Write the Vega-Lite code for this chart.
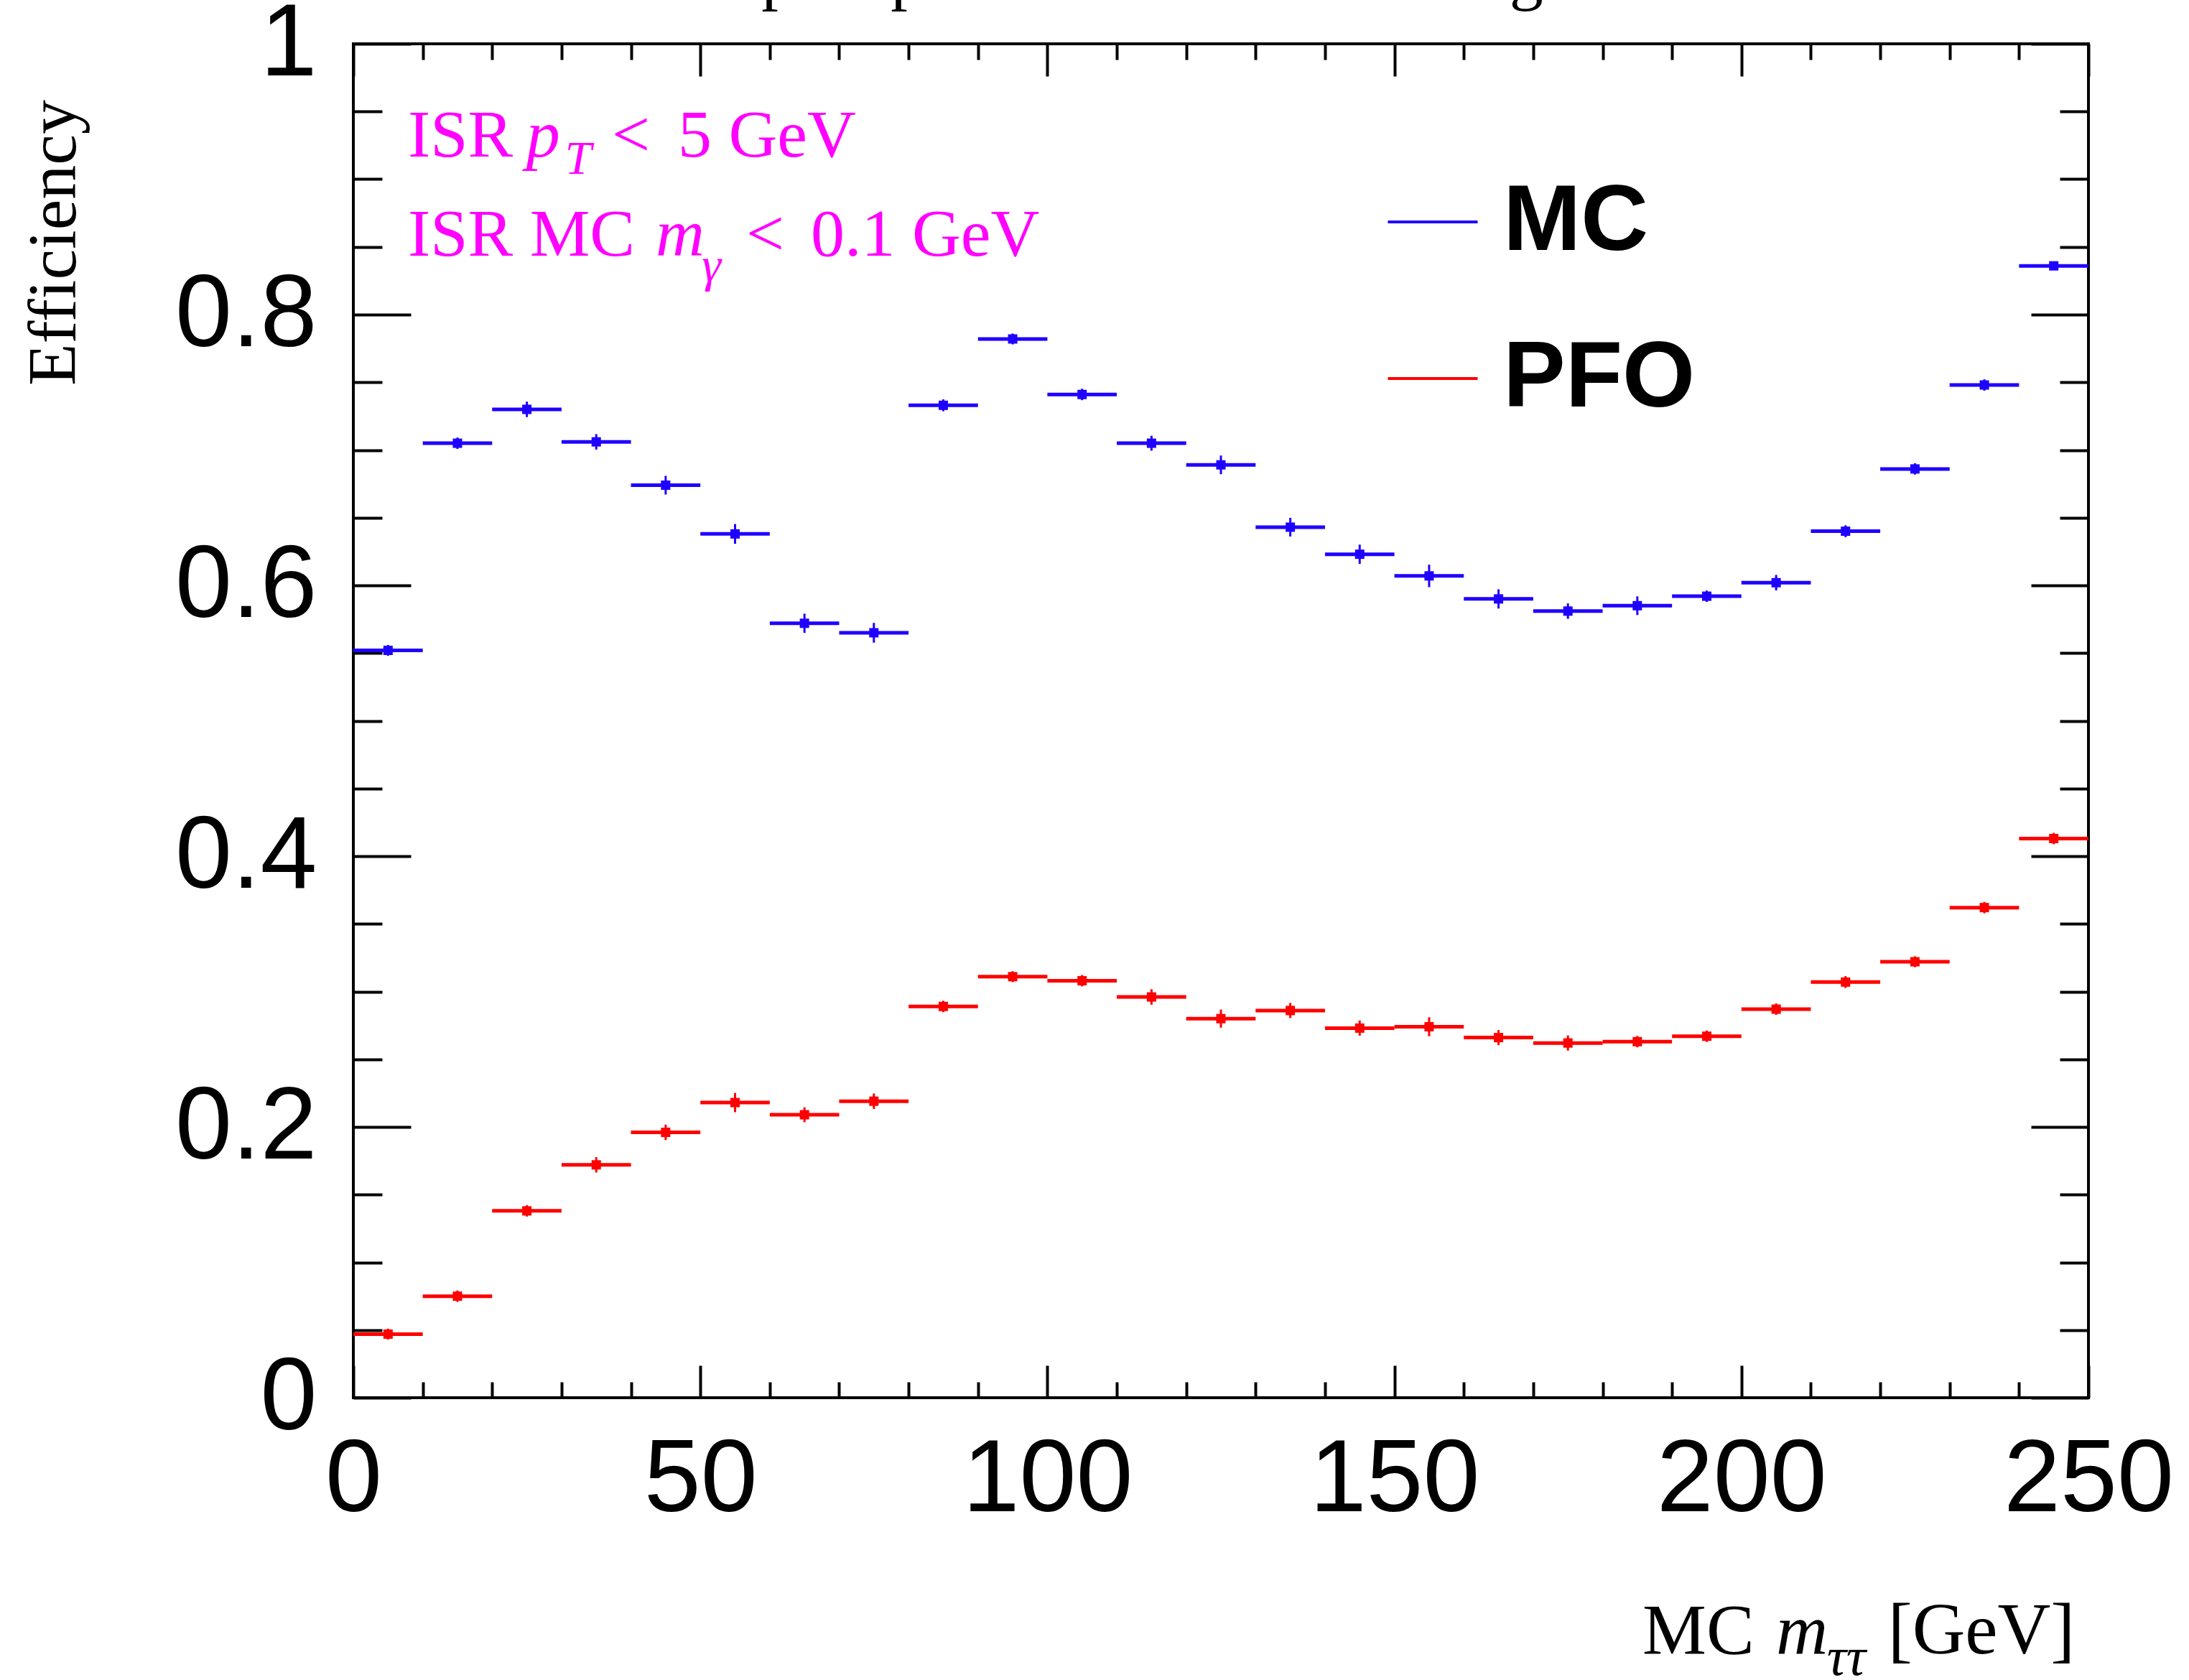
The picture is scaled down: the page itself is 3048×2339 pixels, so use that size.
{
  "$schema": "https://vega.github.io/schema/vega-lite/v6.json",
  "width": 2416,
  "height": 1885,
  "autosize": "none",
  "padding": {"left": 492, "top": 61, "right": 140, "bottom": 393},
  "background": "white",
  "config": {
    "view": {"stroke": "black", "strokeWidth": 4},
    "axis": {"domain": false, "grid": false, "title": null, "tickColor": "black", "tickWidth": 4, "labelColor": "black", "labelFont": "Liberation Sans", "labelFontSize": 142, "labelFlush": false, "labelOverlap": false, "labelLimit": 0}
  },
  "datasets": {
    "bins": [
      {"sample": "MC", "m_lo": 0, "m_hi": 10, "m": 5, "eff": 0.552, "eff_lo": 0.548, "eff_hi": 0.556},
      {"sample": "MC", "m_lo": 10, "m_hi": 20, "m": 15, "eff": 0.705, "eff_lo": 0.7008, "eff_hi": 0.7092},
      {"sample": "MC", "m_lo": 20, "m_hi": 30, "m": 25, "eff": 0.730, "eff_lo": 0.7243, "eff_hi": 0.7357},
      {"sample": "MC", "m_lo": 30, "m_hi": 40, "m": 35, "eff": 0.706, "eff_lo": 0.7003, "eff_hi": 0.7117},
      {"sample": "MC", "m_lo": 40, "m_hi": 50, "m": 45, "eff": 0.674, "eff_lo": 0.6671, "eff_hi": 0.6809},
      {"sample": "MC", "m_lo": 50, "m_hi": 60, "m": 55, "eff": 0.638, "eff_lo": 0.6307, "eff_hi": 0.6453},
      {"sample": "MC", "m_lo": 60, "m_hi": 70, "m": 65, "eff": 0.572, "eff_lo": 0.5649, "eff_hi": 0.5791},
      {"sample": "MC", "m_lo": 70, "m_hi": 80, "m": 75, "eff": 0.565, "eff_lo": 0.5577, "eff_hi": 0.5723},
      {"sample": "MC", "m_lo": 80, "m_hi": 90, "m": 85, "eff": 0.733, "eff_lo": 0.7286, "eff_hi": 0.7374},
      {"sample": "MC", "m_lo": 90, "m_hi": 100, "m": 95, "eff": 0.782, "eff_lo": 0.778, "eff_hi": 0.786},
      {"sample": "MC", "m_lo": 100, "m_hi": 110, "m": 105, "eff": 0.741, "eff_lo": 0.7368, "eff_hi": 0.7452},
      {"sample": "MC", "m_lo": 110, "m_hi": 120, "m": 115, "eff": 0.705, "eff_lo": 0.6995, "eff_hi": 0.7105},
      {"sample": "MC", "m_lo": 120, "m_hi": 130, "m": 125, "eff": 0.689, "eff_lo": 0.6821, "eff_hi": 0.6959},
      {"sample": "MC", "m_lo": 130, "m_hi": 140, "m": 135, "eff": 0.643, "eff_lo": 0.6361, "eff_hi": 0.6499},
      {"sample": "MC", "m_lo": 140, "m_hi": 150, "m": 145, "eff": 0.623, "eff_lo": 0.6159, "eff_hi": 0.6301},
      {"sample": "MC", "m_lo": 150, "m_hi": 160, "m": 155, "eff": 0.607, "eff_lo": 0.5987, "eff_hi": 0.6153},
      {"sample": "MC", "m_lo": 160, "m_hi": 170, "m": 165, "eff": 0.590, "eff_lo": 0.5829, "eff_hi": 0.5971},
      {"sample": "MC", "m_lo": 170, "m_hi": 180, "m": 175, "eff": 0.581, "eff_lo": 0.5753, "eff_hi": 0.5867},
      {"sample": "MC", "m_lo": 180, "m_hi": 190, "m": 185, "eff": 0.585, "eff_lo": 0.5781, "eff_hi": 0.5919},
      {"sample": "MC", "m_lo": 190, "m_hi": 200, "m": 195, "eff": 0.592, "eff_lo": 0.5878, "eff_hi": 0.5962},
      {"sample": "MC", "m_lo": 200, "m_hi": 210, "m": 205, "eff": 0.602, "eff_lo": 0.5963, "eff_hi": 0.6077},
      {"sample": "MC", "m_lo": 210, "m_hi": 220, "m": 215, "eff": 0.640, "eff_lo": 0.6356, "eff_hi": 0.6444},
      {"sample": "MC", "m_lo": 220, "m_hi": 230, "m": 225, "eff": 0.686, "eff_lo": 0.6818, "eff_hi": 0.6902},
      {"sample": "MC", "m_lo": 230, "m_hi": 240, "m": 235, "eff": 0.748, "eff_lo": 0.7438, "eff_hi": 0.7522},
      {"sample": "MC", "m_lo": 240, "m_hi": 250, "m": 245, "eff": 0.836, "eff_lo": 0.833, "eff_hi": 0.839},
      {"sample": "PFO", "m_lo": 0, "m_hi": 10, "m": 5, "eff": 0.047, "eff_lo": 0.043, "eff_hi": 0.051},
      {"sample": "PFO", "m_lo": 10, "m_hi": 20, "m": 15, "eff": 0.075, "eff_lo": 0.0708, "eff_hi": 0.0792},
      {"sample": "PFO", "m_lo": 20, "m_hi": 30, "m": 25, "eff": 0.138, "eff_lo": 0.1338, "eff_hi": 0.1422},
      {"sample": "PFO", "m_lo": 30, "m_hi": 40, "m": 35, "eff": 0.172, "eff_lo": 0.1663, "eff_hi": 0.1777},
      {"sample": "PFO", "m_lo": 40, "m_hi": 50, "m": 45, "eff": 0.196, "eff_lo": 0.1903, "eff_hi": 0.2017},
      {"sample": "PFO", "m_lo": 50, "m_hi": 60, "m": 55, "eff": 0.218, "eff_lo": 0.2109, "eff_hi": 0.2251},
      {"sample": "PFO", "m_lo": 60, "m_hi": 70, "m": 65, "eff": 0.209, "eff_lo": 0.2035, "eff_hi": 0.2145},
      {"sample": "PFO", "m_lo": 70, "m_hi": 80, "m": 75, "eff": 0.219, "eff_lo": 0.2133, "eff_hi": 0.2247},
      {"sample": "PFO", "m_lo": 80, "m_hi": 90, "m": 85, "eff": 0.289, "eff_lo": 0.2848, "eff_hi": 0.2932},
      {"sample": "PFO", "m_lo": 90, "m_hi": 100, "m": 95, "eff": 0.311, "eff_lo": 0.307, "eff_hi": 0.315},
      {"sample": "PFO", "m_lo": 100, "m_hi": 110, "m": 105, "eff": 0.308, "eff_lo": 0.3038, "eff_hi": 0.3122},
      {"sample": "PFO", "m_lo": 110, "m_hi": 120, "m": 115, "eff": 0.296, "eff_lo": 0.2903, "eff_hi": 0.3017},
      {"sample": "PFO", "m_lo": 120, "m_hi": 130, "m": 125, "eff": 0.280, "eff_lo": 0.2733, "eff_hi": 0.2867},
      {"sample": "PFO", "m_lo": 130, "m_hi": 140, "m": 135, "eff": 0.286, "eff_lo": 0.2804, "eff_hi": 0.2916},
      {"sample": "PFO", "m_lo": 140, "m_hi": 150, "m": 145, "eff": 0.273, "eff_lo": 0.2674, "eff_hi": 0.2786},
      {"sample": "PFO", "m_lo": 150, "m_hi": 160, "m": 155, "eff": 0.274, "eff_lo": 0.267, "eff_hi": 0.281},
      {"sample": "PFO", "m_lo": 160, "m_hi": 170, "m": 165, "eff": 0.266, "eff_lo": 0.2604, "eff_hi": 0.2716},
      {"sample": "PFO", "m_lo": 170, "m_hi": 180, "m": 175, "eff": 0.262, "eff_lo": 0.2564, "eff_hi": 0.2676},
      {"sample": "PFO", "m_lo": 180, "m_hi": 190, "m": 185, "eff": 0.263, "eff_lo": 0.2588, "eff_hi": 0.2672},
      {"sample": "PFO", "m_lo": 190, "m_hi": 200, "m": 195, "eff": 0.267, "eff_lo": 0.2628, "eff_hi": 0.2712},
      {"sample": "PFO", "m_lo": 200, "m_hi": 210, "m": 205, "eff": 0.287, "eff_lo": 0.2828, "eff_hi": 0.2912},
      {"sample": "PFO", "m_lo": 210, "m_hi": 220, "m": 215, "eff": 0.307, "eff_lo": 0.3026, "eff_hi": 0.3114},
      {"sample": "PFO", "m_lo": 220, "m_hi": 230, "m": 225, "eff": 0.322, "eff_lo": 0.318, "eff_hi": 0.326},
      {"sample": "PFO", "m_lo": 230, "m_hi": 240, "m": 235, "eff": 0.362, "eff_lo": 0.3578, "eff_hi": 0.3662},
      {"sample": "PFO", "m_lo": 240, "m_hi": 250, "m": 245, "eff": 0.413, "eff_lo": 0.4088, "eff_hi": 0.4172}
    ]
  },
  "resolve": {"axis": {"x": "independent", "y": "independent"}},
  "layer": [
    {
      "data": {"name": "bins"},
      "mark": {"type": "rule", "strokeWidth": 5},
      "encoding": {
        "x": {"field": "m_lo", "type": "quantitative", "scale": {"domain": [0, 250], "nice": false},
              "axis": {"orient": "bottom", "values": [0, 50, 100, 150, 200, 250], "tickSize": -45, "labelPadding": 90, "format": "d"}},
        "x2": {"field": "m_hi"},
        "y": {"field": "eff", "type": "quantitative", "scale": {"domain": [0, 1], "nice": false},
              "axis": {"orient": "left", "values": [0, 0.2, 0.4, 0.6, 0.8, 1], "tickSize": -80, "labelPadding": 131, "format": "~g"}},
        "color": {"field": "sample", "type": "nominal",
                  "scale": {"domain": ["MC", "PFO"], "range": ["#1f00ff", "#ff0000"]},
                  "legend": {"orient": "none", "legendX": 1438, "legendY": 183, "direction": "vertical", "title": null,
                             "symbolType": "stroke", "symbolSize": 15625, "symbolStrokeWidth": 4,
                             "labelFont": "Liberation Sans", "labelFontWeight": "bold", "labelFontSize": 130, "labelColor": "black",
                             "labelOffset": 33, "rowPadding": 88, "padding": 0, "labelLimit": 0}}
      }
    },
    {
      "data": {"name": "bins"},
      "mark": {"type": "rule", "strokeWidth": 3},
      "encoding": {
        "x": {"field": "m", "type": "quantitative", "scale": {"domain": [0, 250], "nice": false},
              "axis": {"orient": "bottom", "values": [10, 20, 30, 40, 60, 70, 80, 90, 110, 120, 130, 140, 160, 170, 180, 190, 210, 220, 230, 240], "tickSize": -22, "labels": false}},
        "y": {"field": "eff_lo", "type": "quantitative", "scale": {"domain": [0, 1], "nice": false},
              "axis": {"orient": "left", "values": [0.05, 0.1, 0.15, 0.25, 0.3, 0.35, 0.45, 0.5, 0.55, 0.65, 0.7, 0.75, 0.85, 0.9, 0.95], "tickSize": -40, "labels": false}},
        "y2": {"field": "eff_hi"},
        "color": {"field": "sample", "type": "nominal", "legend": null}
      }
    },
    {
      "data": {"name": "bins"},
      "mark": {"type": "point", "shape": "square", "filled": true, "size": 169, "opacity": 1, "strokeWidth": 0},
      "encoding": {
        "x": {"field": "m", "type": "quantitative", "scale": {"domain": [0, 250], "nice": false},
              "axis": {"orient": "top", "values": [0, 50, 100, 150, 200, 250], "tickSize": -45, "labels": false}},
        "y": {"field": "eff", "type": "quantitative", "scale": {"domain": [0, 1], "nice": false},
              "axis": {"orient": "right", "values": [0, 0.2, 0.4, 0.6, 0.8, 1], "tickSize": -80, "labels": false}},
        "color": {"field": "sample", "type": "nominal", "legend": null}
      }
    },
    {
      "data": {"values": [{}]},
      "mark": {"type": "text", "text": "Impact parameter method using MC", "font": "Liberation Serif", "fontSize": 94, "color": "black", "align": "center", "baseline": "alphabetic"},
      "encoding": {
        "x": {"datum": 118.5, "type": "quantitative", "scale": {"domain": [0, 250], "nice": false},
              "axis": {"orient": "top", "values": [10, 20, 30, 40, 60, 70, 80, 90, 110, 120, 130, 140, 160, 170, 180, 190, 210, 220, 230, 240], "tickSize": -22, "labels": false}},
        "y": {"datum": 1.0345, "type": "quantitative", "scale": {"domain": [0, 1], "nice": false},
              "axis": {"orient": "right", "values": [0.05, 0.1, 0.15, 0.25, 0.3, 0.35, 0.45, 0.5, 0.55, 0.65, 0.7, 0.75, 0.85, 0.9, 0.95], "tickSize": -40, "labels": false}}
      }
    },
    {
      "data": {"values": [{}]},
      "mark": {"type": "text", "text": "Efficiency", "font": "Liberation Serif", "fontSize": 96, "color": "black", "align": "right", "baseline": "alphabetic", "angle": 270},
      "encoding": {
        "x": {"datum": -40.05, "type": "quantitative", "axis": null},
        "y": {"datum": 0.9586, "type": "quantitative", "axis": null}
      }
    },
    {
      "data": {"values": [{}]},
      "mark": {"type": "text", "text": "MC", "font": "Liberation Serif", "fontSize": 100, "color": "black", "align": "left", "baseline": "alphabetic"},
      "encoding": {"x": {"datum": 185.74, "type": "quantitative", "axis": null}, "y": {"datum": -0.189, "type": "quantitative", "axis": null}}
    },
    {
      "data": {"values": [{}]},
      "mark": {"type": "text", "text": "m", "font": "Liberation Serif", "fontStyle": "italic", "fontSize": 100, "color": "black", "align": "left", "baseline": "alphabetic"},
      "encoding": {"x": {"datum": 204.99, "type": "quantitative", "axis": null}, "y": {"datum": -0.189, "type": "quantitative", "axis": null}}
    },
    {
      "data": {"values": [{}]},
      "mark": {"type": "text", "text": "ττ", "font": "Liberation Serif", "fontStyle": "italic", "fontSize": 76, "color": "black", "align": "left", "baseline": "alphabetic"},
      "encoding": {"x": {"datum": 212.3, "type": "quantitative", "axis": null}, "y": {"datum": -0.2049, "type": "quantitative", "axis": null}}
    },
    {
      "data": {"values": [{}]},
      "mark": {"type": "text", "text": "[GeV]", "font": "Liberation Serif", "fontSize": 102, "color": "black", "align": "left", "baseline": "alphabetic"},
      "encoding": {"x": {"datum": 221.1, "type": "quantitative", "axis": null}, "y": {"datum": -0.189, "type": "quantitative", "axis": null}}
    },
    {
      "data": {"values": [{}]},
      "mark": {"type": "text", "text": "ISR", "font": "Liberation Serif", "fontSize": 94, "color": "#ff00ff", "align": "left", "baseline": "alphabetic"},
      "encoding": {"x": {"datum": 7.86, "type": "quantitative", "axis": null}, "y": {"datum": 0.9167, "type": "quantitative", "axis": null}}
    },
    {
      "data": {"values": [{}]},
      "mark": {"type": "text", "text": "p", "font": "Liberation Serif", "fontStyle": "italic", "fontSize": 94, "color": "#ff00ff", "align": "left", "baseline": "alphabetic"},
      "encoding": {"x": {"datum": 24.9, "type": "quantitative", "axis": null}, "y": {"datum": 0.9167, "type": "quantitative", "axis": null}}
    },
    {
      "data": {"values": [{}]},
      "mark": {"type": "text", "text": "T", "font": "Liberation Serif", "fontStyle": "italic", "fontSize": 66, "color": "#ff00ff", "align": "left", "baseline": "alphabetic"},
      "encoding": {"x": {"datum": 30.5, "type": "quantitative", "axis": null}, "y": {"datum": 0.9039, "type": "quantitative", "axis": null}}
    },
    {
      "data": {"values": [{}]},
      "mark": {"type": "text", "text": "<", "font": "Liberation Serif", "fontSize": 94, "color": "#ff00ff", "align": "left", "baseline": "alphabetic"},
      "encoding": {"x": {"datum": 37.25, "type": "quantitative", "axis": null}, "y": {"datum": 0.9167, "type": "quantitative", "axis": null}}
    },
    {
      "data": {"values": [{}]},
      "mark": {"type": "text", "text": "5 GeV", "font": "Liberation Serif", "fontSize": 94, "color": "#ff00ff", "align": "left", "baseline": "alphabetic"},
      "encoding": {"x": {"datum": 46.77, "type": "quantitative", "axis": null}, "y": {"datum": 0.9167, "type": "quantitative", "axis": null}}
    },
    {
      "data": {"values": [{}]},
      "mark": {"type": "text", "text": "ISR MC", "font": "Liberation Serif", "fontSize": 94, "color": "#ff00ff", "align": "left", "baseline": "alphabetic"},
      "encoding": {"x": {"datum": 7.86, "type": "quantitative", "axis": null}, "y": {"datum": 0.8434, "type": "quantitative", "axis": null}}
    },
    {
      "data": {"values": [{}]},
      "mark": {"type": "text", "text": "m", "font": "Liberation Serif", "fontStyle": "italic", "fontSize": 94, "color": "#ff00ff", "align": "left", "baseline": "alphabetic"},
      "encoding": {"x": {"datum": 43.56, "type": "quantitative", "axis": null}, "y": {"datum": 0.8434, "type": "quantitative", "axis": null}}
    },
    {
      "data": {"values": [{}]},
      "mark": {"type": "text", "text": "γ", "font": "Liberation Serif", "fontStyle": "italic", "fontSize": 68, "color": "#ff00ff", "align": "left", "baseline": "alphabetic"},
      "encoding": {"x": {"datum": 50.2, "type": "quantitative", "axis": null}, "y": {"datum": 0.8244, "type": "quantitative", "axis": null}}
    },
    {
      "data": {"values": [{}]},
      "mark": {"type": "text", "text": "<", "font": "Liberation Serif", "fontSize": 94, "color": "#ff00ff", "align": "left", "baseline": "alphabetic"},
      "encoding": {"x": {"datum": 56.6, "type": "quantitative", "axis": null}, "y": {"datum": 0.8434, "type": "quantitative", "axis": null}}
    },
    {
      "data": {"values": [{}]},
      "mark": {"type": "text", "text": "0.1 GeV", "font": "Liberation Serif", "fontSize": 94, "color": "#ff00ff", "align": "left", "baseline": "alphabetic"},
      "encoding": {"x": {"datum": 65.91, "type": "quantitative", "axis": null}, "y": {"datum": 0.8434, "type": "quantitative", "axis": null}}
    }
  ]
}
